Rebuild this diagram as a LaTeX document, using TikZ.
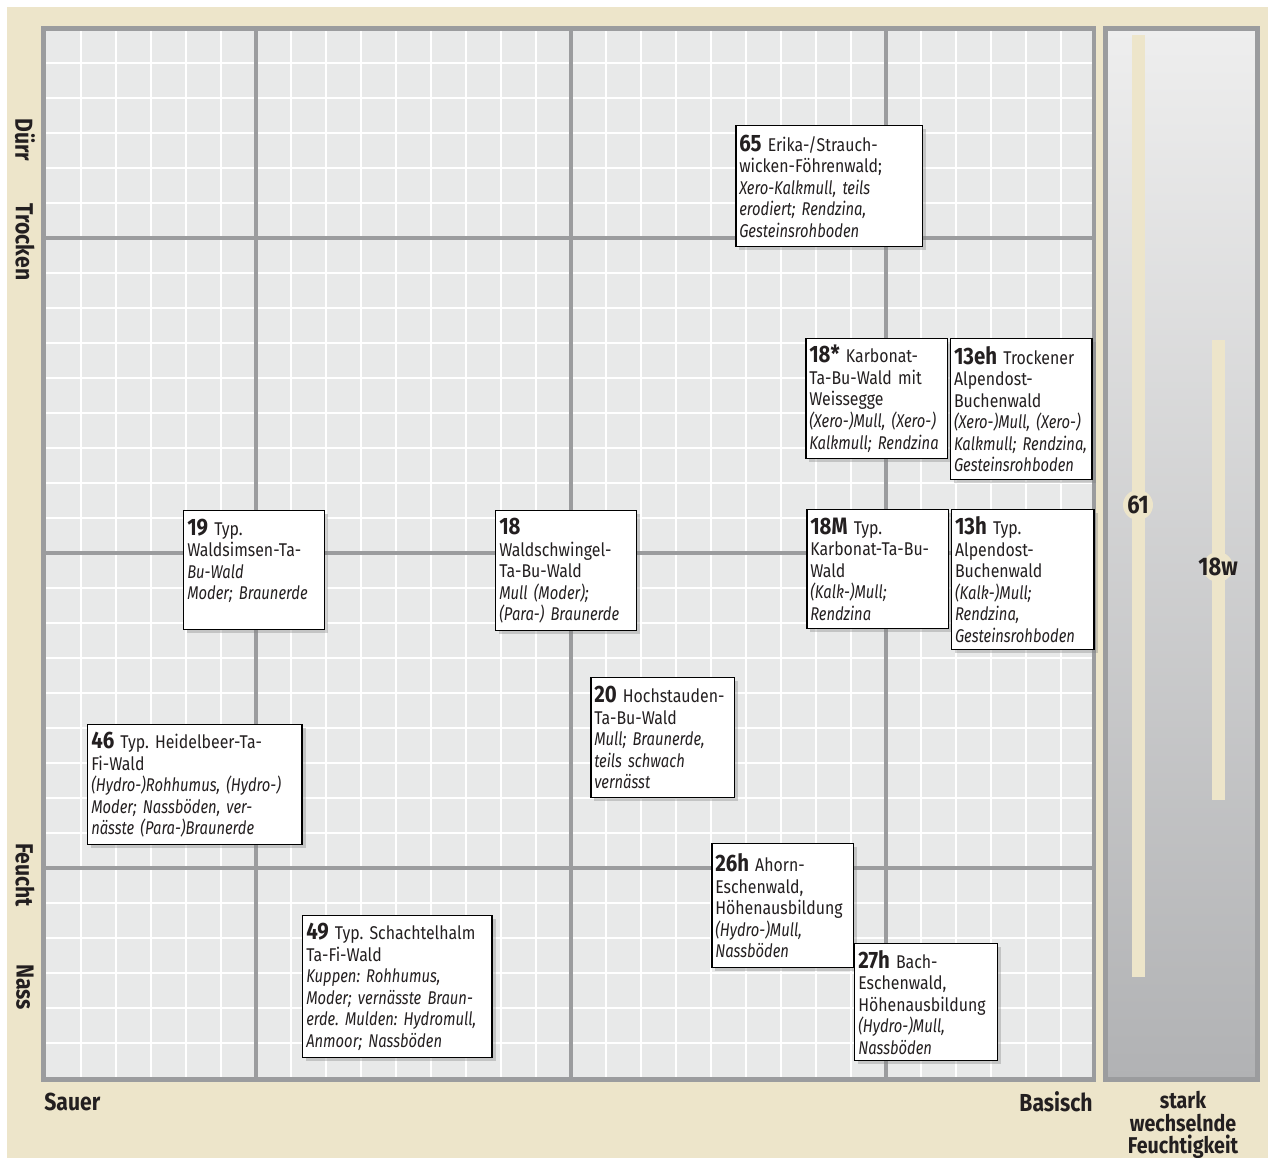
\documentclass[tikz,border=0pt]{standalone}
\usepackage{fontspec}
\setmainfont{Fira Sans}[FakeStretch=0.86, ItalicFeatures={FakeStretch=0.8}]
\usetikzlibrary{positioning,shadows}

\definecolor{beige}{HTML}{EDE5CA}
\definecolor{rasterbg}{HTML}{E8E9E9}
\definecolor{rastergrau}{HTML}{9B9C9E}
\definecolor{tinte}{HTML}{231F20}
\definecolor{paneloben}{HTML}{EEEEEE}
\definecolor{panelunten}{HTML}{B1B2B4}

\newcommand{\nr}[1]{{\fontsize{13.5}{12.25}\selectfont\bfseries #1}}
\frenchspacing
\hyphenpenalty=10000
\exhyphenpenalty=10000

\begin{document}
\begin{tikzpicture}[x=0.02cm, y=-0.02cm,
  standort/.style={draw=black, line width=0.85pt, fill=white, anchor=north west, align=left,
    inner xsep=2pt, inner ysep=1pt, text=tinte, font=\fontsize{10.5}{12.25}\selectfont,
    drop shadow={shadow xshift=2pt, shadow yshift=-2pt, opacity=0.35}},
  achse/.style={font=\fontsize{14}{12}\selectfont\bfseries, text=tinte, inner sep=0pt},
  fein/.style={white, line width=1.1pt},
  haupt/.style={rastergrau, line width=2.3pt},
  rahmen/.style={draw=rastergrau, line width=2.8pt},
  kreis/.style={circle, fill=beige, minimum size=0.6cm, inner sep=0pt},
  marke/.style={font=\fontsize{14.5}{14}\selectfont\bfseries, text=tinte, inner sep=0pt}]

  \useasboundingbox (0,0) rectangle (1268,1158);
  \fill[beige] (7,7) rectangle (1268,1158);

  % Raster
  \fill[rasterbg] (43.5,28.5) rectangle (1094,1079.5);
  \foreach \k in {1,...,29} {
    \draw[fein] ({46+35*\k},28.5) -- ({46+35*\k},1079.5);
    \draw[fein] (43.5,{28+35*\k}) -- (1094,{28+35*\k});
  }
  \draw[haupt] (256,28.5) -- (256,1079.5);
  \draw[haupt] (571,28.5) -- (571,1079.5);
  \draw[haupt] (886,28.5) -- (886,1079.5);
  \draw[haupt] (43.5,238) -- (1094,238);
  \draw[haupt] (43.5,553) -- (1094,553);
  \draw[haupt] (43.5,868) -- (1094,868);
  \draw[rahmen] (43.5,28.5) rectangle (1094,1079.5);

  % Wechselfeuchte Spalte
  \shade[top color=paneloben, bottom color=panelunten] (1105.5,28.5) rectangle (1257.5,1079.5);
  \draw[rahmen] (1105.5,28.5) rectangle (1257.5,1079.5);
  \fill[beige] (1131.5,35) rectangle (1144.5,977);
  \fill[beige] (1211.5,340) rectangle (1224.5,800);
  \node[kreis] (k61) at (1138,505) {};
  \node[marke] (m61) at (k61) {61};
  \node[kreis] (k18w) at (1218,567) {};
  \node[marke] (m18w) at (k18w) {18w};

  % Achsen
  \node[achse, rotate=-90] (duerr) at (25,140) {Dürr};
  \node[achse, rotate=-90] (trocken) at (25,242) {Trocken};
  \node[achse, rotate=-90] (feucht) at (25,875) {Feucht};
  \node[achse, rotate=-90] (nass) at (25,987) {Nass};
  \node[achse, anchor=west] (sauer) at (44,1102) {Sauer};
  \node[achse, anchor=east] (basisch) at (1093,1102) {Basisch};
  \node[achse, font=\fontsize{13}{12.8}\selectfont\bfseries, align=center, anchor=north] (wechsel) at (1183,1091) {stark\\wechselnde\\Feuchtigkeit};

  % Standorte oben
  \node[standort, text width=3.59cm, minimum height=2.42cm] (s65) at (735,125)
    {\nr{65} Erika-/Strauch-\\wicken-Föhrenwald;\\\textit{Xero-Kalkmull, teils}\\\textit{erodiert; Rendzina,}\\\textit{Gesteinsrohboden}};
  \node[standort, text width=2.69cm, minimum height=2.40cm] (s18star) at (805,338)
    {\nr{18*} Karbonat-\\Ta-Bu-Wald mit\\Weissegge\\\textit{(Xero-)Mull, (Xero-)}\\\textit{Kalkmull; Rendzina}};
  \node[standort, right=1pt of s18star.north east, anchor=north west, text width=2.69cm, minimum height=2.82cm] (s13eh)
    {\nr{13eh} Trockener\\Alpendost-\\Buchenwald\\\textit{(Xero-)Mull, (Xero-)}\\\textit{Kalkmull; Rendzina,}\\\textit{Gesteinsrohboden}};

  % Standorte Mitte
  \node[standort, text width=2.67cm, minimum height=2.38cm] (s19) at (183,510)
    {\nr{19} Typ.\\Waldsimsen-Ta-\\\textit{Bu-Wald}\\\textit{Moder; Braunerde}\\\mbox{}};
  \node[standort, text width=2.67cm, minimum height=2.40cm] (s18) at (495,510)
    {\nr{18}\\Waldschwingel-\\Ta-Bu-Wald\\\textit{Mull (Moder);}\\\textit{(Para-) Braunerde}};
  \node[standort, text width=2.69cm, minimum height=2.38cm] (s18M) at (806,509)
    {\nr{18M} Typ.\\Karbonat-Ta-Bu-\\Wald\\\textit{(Kalk-)Mull;}\\\textit{Rendzina}};
  \node[standort, right=1pt of s18M.north east, anchor=north west, text width=2.71cm, minimum height=2.80cm] (s13h)
    {\nr{13h} Typ.\\Alpendost-\\Buchenwald\\\textit{(Kalk-)Mull;}\\\textit{Rendzina,}\\\textit{Gesteinsrohboden}};
  \node[standort, text width=2.73cm, minimum height=2.40cm] (s20) at (590,677)
    {\nr{20} Hochstauden-\\Ta-Bu-Wald\\\textit{Mull; Braunerde,}\\\textit{teils schwach}\\\textit{vernässt}};
  \node[standort, text width=4.15cm, minimum height=2.40cm] (s46) at (87,724)
    {\nr{46} Typ. Heidelbeer-Ta-\\Fi-Wald\\\textit{(Hydro-)Rohhumus, (Hydro-)}\\\textit{Moder; Nassböden, ver-}\\\textit{nässte (Para-)Braunerde}};

  % Standorte unten
  \node[standort, text width=3.65cm, minimum height=2.84cm] (s49) at (302,915)
    {\nr{49} Typ. Schachtelhalm\\Ta-Fi-Wald\\\textit{Kuppen: Rohhumus,}\\\textit{Moder; vernässte Braun-}\\\textit{erde. Mulden: Hydromull,}\\\textit{Anmoor; Nassböden}};
  \node[standort, text width=2.69cm, minimum height=2.48cm] (s26h) at (711,843)
    {\nr{26h} Ahorn-\\Eschenwald,\\Höhenausbildung\\\textit{(Hydro-)Mull,}\\\textit{Nassböden}};
  \node[standort, below=2cm of s26h.north east, anchor=north west, text width=2.71cm, minimum height=2.34cm] (s27h)
    {\nr{27h} Bach-\\Eschenwald,\\Höhenausbildung\\\textit{(Hydro-)Mull,}\\\textit{Nassböden}};

\end{tikzpicture}
\end{document}
